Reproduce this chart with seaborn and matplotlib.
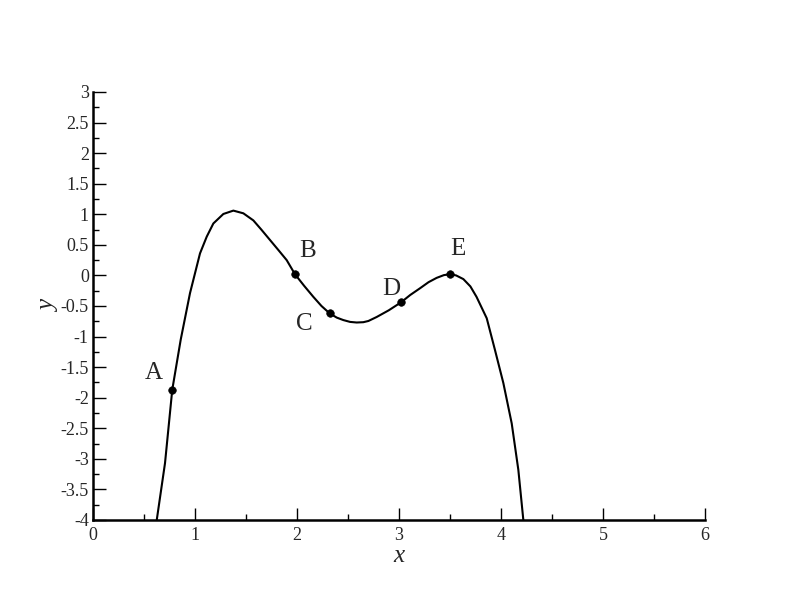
import pandas as pd
import matplotlib
matplotlib.use('Agg')
import matplotlib.pyplot as plt
from matplotlib.ticker import MultipleLocator
import seaborn as sns

sns.set_style('ticks')
plt.rcParams['font.family'] = ['Liberation Serif', 'DejaVu Serif']

# curve
curve_x = [0.625, 0.706, 0.777, 0.86, 0.951, 1.049, 1.115, 1.18, 1.278, 1.376,
           1.474, 1.572, 1.65, 1.735, 1.82, 1.899, 1.98, 2.07, 2.16, 2.24,
           2.32, 2.39, 2.454, 2.52, 2.585, 2.65, 2.70, 2.781, 2.90, 3.02,
           3.11, 3.206, 3.29, 3.369, 3.44, 3.5, 3.56, 3.631, 3.70, 3.76,
           3.86, 3.941, 4.023, 4.105, 4.17, 4.219]
curve_y = [-4.0, -3.07, -1.87, -1.05, -0.29, 0.36, 0.634, 0.85, 1.005, 1.06,
           1.016, 0.90, 0.75, 0.58, 0.41, 0.25, 0.02, -0.17, -0.35, -0.50,
           -0.62, -0.69, -0.73, -0.76, -0.77, -0.765, -0.745, -0.68, -0.57, -0.44,
           -0.32, -0.21, -0.11, -0.04, 0.005, 0.02, 0.0, -0.06, -0.18, -0.35,
           -0.70, -1.22, -1.76, -2.42, -3.18, -4.0]

# marked points and their labels
point_names = ['A', 'B', 'C', 'D', 'E']
point_x = [0.777, 1.98, 2.32, 3.02, 3.5]
point_y = [-1.87, 0.02, -0.62, -0.43, 0.02]
label_x = [0.6, 2.1, 2.07, 2.92, 3.58]
label_y = [-1.6, 0.4, -0.79, -0.22, 0.43]

curve = pd.DataFrame({'x': curve_x, 'y': curve_y})
points = pd.DataFrame({'x': point_x, 'y': point_y, 'name': point_names})

fig = plt.figure(figsize=(7.92, 6.12), dpi=100)
ax = fig.add_axes([93 / 792, 92 / 612, 612 / 792, 428 / 612])

sns.lineplot(data=curve, x='x', y='y', sort=False, color='black', linewidth=1.5, ax=ax)
sns.scatterplot(data=points, x='x', y='y', color='black', s=30, edgecolor='black', zorder=3, ax=ax)

for name, lx, ly in zip(point_names, label_x, label_y):
    ax.text(lx, ly, name, fontsize=18, ha='center', va='center')

ax.set_xlim(0, 6)
ax.set_ylim(-4, 3)
ax.xaxis.set_major_locator(MultipleLocator(1))
ax.xaxis.set_minor_locator(MultipleLocator(0.5))
ax.yaxis.set_major_locator(MultipleLocator(0.5))
ax.yaxis.set_minor_locator(MultipleLocator(0.25))
ax.set_xticks([0, 1, 2, 3, 4, 5, 6], ['0', '1', '2', '3', '4', '5', '6'])
ax.set_yticks([-4, -3.5, -3, -2.5, -2, -1.5, -1, -0.5, 0, 0.5, 1, 1.5, 2, 2.5, 3],
              ['-4', '-3.5', '-3', '-2.5', '-2', '-1.5', '-1', '-0.5', '0',
               '0.5', '1', '1.5', '2', '2.5', '3'])

ax.tick_params(which='major', direction='in', length=9, width=1, labelsize=13, pad=3, color='black')
ax.tick_params(which='minor', direction='in', length=4.5, width=1, color='black')
ax.tick_params(axis='x', which='major', pad=5)

sns.despine(ax=ax)
for side in ['left', 'bottom']:
    ax.spines[side].set_linewidth(1.8)
    ax.spines[side].set_color('black')

ax.set_xlabel('x', fontsize=18, fontstyle='italic', labelpad=1)
ax.set_ylabel('y', fontsize=18, fontstyle='italic', labelpad=0)

fig.savefig('out.png', dpi=100)
